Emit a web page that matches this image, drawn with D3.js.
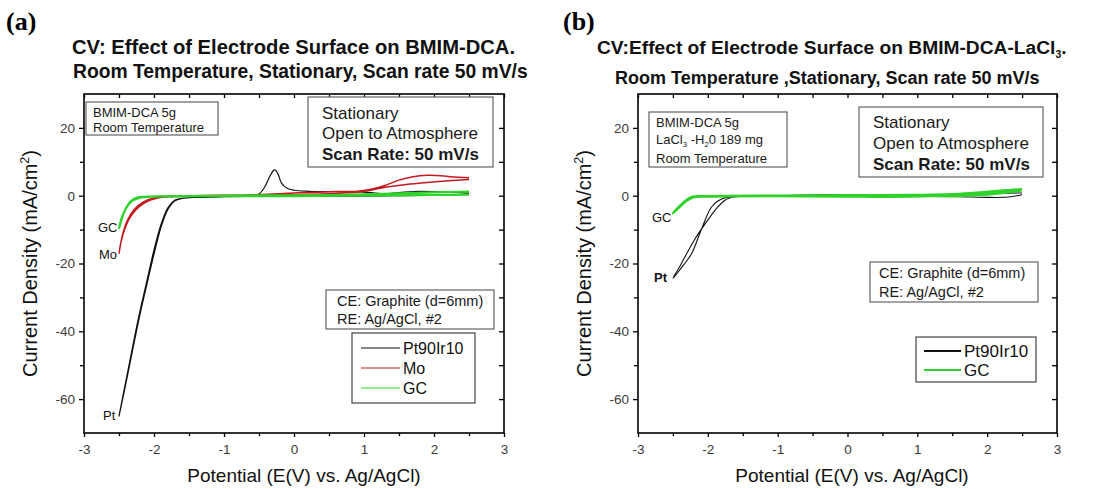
<!DOCTYPE html>
<html><head><meta charset="utf-8">
<script src="https://cdn.jsdelivr.net/npm/d3@7"></script>
<style>body{margin:0;background:#fff}</style>
</head><body>
<svg id="c" width="1114" height="489" xmlns="http://www.w3.org/2000/svg"></svg>
<script>
// ---------- data ----------
const xTicks = [-3, -2, -1, 0, 1, 2, 3];
const xMinor = [-2.5, -1.5, -0.5, 0.5, 1.5, 2.5];
const yTicks = [20, 0, -20, -40, -60];
const yMinor = [10, -10, -30, -50];
const xDomain = [-3, 3];
const yDomain = [-70, 30];

// Panel (a): BMIM-DCA, [E (V), current density (mA/cm2)]
const ptA = [[2.5,0.5],[2.2,0.2],[1.8,0.1],[1.4,0.0],[1.0,-0.1],[0.5,-0.1],[0.0,-0.1],[-0.5,-0.2],[-1.0,-0.3],[-1.4,-0.5],[-1.6,-0.8],[-1.7,-1.3],[-1.8,-3.5],[-1.9,-8.5],[-2.0,-16],[-2.1,-25],[-2.2,-34],[-2.3,-44],[-2.4,-54.5],[-2.5,-65],
  [-2.4,-55.2],[-2.3,-45.0],[-2.2,-35.0],[-2.1,-26.0],[-2.0,-17.2],[-1.9,-9.3],[-1.8,-4.0],[-1.7,-1.5],[-1.6,-0.8],[-1.4,-0.4],[-1.0,-0.1],[-0.6,0.2],[-0.5,0.5],[-0.42,2.5],[-0.35,5.5],[-0.3,7.3],[-0.27,7.6],[-0.23,6.5],[-0.18,3.8],[-0.1,2.2],[0.0,1.6],[0.2,1.3],[0.5,1.2],[0.9,1.2],[1.1,0.9],[1.3,0.6],[1.5,0.9],[1.8,1.3],[2.1,1.1],[2.5,0.8]];
const moA = [[2.5,4.8],[2.2,4.4],[1.9,3.9],[1.6,3.3],[1.3,2.5],[1.1,1.6],[0.9,1.0],[0.5,0.6],[0.0,0.3],[-0.5,0.1],[-1.0,0.0],[-1.5,-0.1],[-1.8,-0.3],[-1.95,-0.7],[-2.05,-1.3],[-2.15,-2.3],[-2.25,-4.0],[-2.35,-6.7],[-2.42,-10],[-2.47,-13.5],[-2.5,-17],
  [-2.45,-11.5],[-2.38,-7.3],[-2.28,-4.0],[-2.15,-1.8],[-2.0,-0.7],[-1.8,-0.2],[-1.5,0.0],[-1.0,0.1],[-0.5,0.3],[0.0,0.8],[0.5,1.2],[0.9,1.3],[1.1,1.9],[1.3,3.0],[1.5,4.6],[1.7,5.6],[1.9,6.0],[2.1,5.9],[2.3,5.5],[2.5,5.3]];
const gcA = [[2.5,0.3],[2.0,0.2],[1.5,0.1],[1.0,0.0],[0.0,-0.1],[-1.0,-0.1],[-1.8,-0.2],[-2.05,-0.3],[-2.2,-0.6],[-2.3,-1.4],[-2.38,-3.0],[-2.43,-5.0],[-2.47,-7.5],[-2.5,-9.6],
  [-2.46,-6.5],[-2.4,-3.8],[-2.33,-1.6],[-2.25,-0.6],[-2.1,-0.3],[-1.5,-0.1],[-0.5,0.1],[0.5,0.2],[1.0,0.4],[1.5,0.7],[2.0,1.0],[2.5,1.2]];

// Panel (b): BMIM-DCA-LaCl3
const ptB = [[2.5,0.3],[2.3,-0.4],[2.0,-0.5],[1.6,-0.3],[1.0,-0.2],[0.5,-0.2],[0.0,-0.1],[-0.5,0.0],[-1.0,-0.1],[-1.5,-0.2],[-1.73,-0.5],[-1.85,-1.5],[-1.95,-3.4],[-2.09,-9.8],[-2.23,-17],[-2.35,-20.5],[-2.5,-24.4],
  [-2.4,-20.8],[-2.3,-17],[-2.2,-13.3],[-2.09,-9.8],[-1.97,-6.3],[-1.86,-3.4],[-1.76,-1.4],[-1.68,-0.6],[-1.5,-0.2],[-1.0,0.0],[-0.4,0.3],[0.0,0.2],[0.5,0.1],[1.0,0.1],[1.5,0.3],[1.8,0.6],[2.1,0.7],[2.5,0.8]];
const gcB = [[2.5,1.6],[2.3,1.0],[2.0,0.4],[1.7,0.1],[1.2,-0.1],[0.5,-0.3],[0.0,-0.2],[-1.0,-0.1],[-2.0,-0.2],[-2.2,-0.4],[-2.3,-1.4],[-2.4,-3.2],[-2.5,-5.2],
  [-2.4,-3.0],[-2.3,-1.2],[-2.22,-0.3],[-2.0,-0.2],[-1.0,0.0],[0.0,0.1],[1.0,0.2],[1.5,0.4],[1.8,0.8],[2.1,1.3],[2.3,1.6],[2.5,1.9]];

const legendA = ["Pt90Ir10", "Mo", "GC"];
const legendB = ["Pt90Ir10", "GC"];
const colors = {Pt90Ir10: "#111111", Mo: "#c21a1f", GC: "#2fd22a"};

// ---------- drawing ----------
const svg = d3.select("#c");
svg.append("rect").attr("width",1114).attr("height",489).attr("fill","#fff");
const SANS = "'Liberation Sans', Arial, sans-serif";

function panel(cfg) {
  const x = d3.scaleLinear().domain(xDomain).range([cfg.l, cfg.r]);
  const y = d3.scaleLinear().domain(yDomain).range([cfg.b, cfg.t]);
  const g = svg.append("g");
  const fmt = d => String(d);

  // curves
  const line = d3.line().x(d => x(d[0])).y(d => y(d[1])).curve(d3.curveCatmullRom.alpha(0.5));
  cfg.series.forEach(s => {
    g.append("path").attr("d", line(s.data)).attr("fill","none")
      .attr("stroke", colors[s.name]).attr("stroke-width", s.w).attr("stroke-linejoin","round");
  });

  // axes
  const styleAxis = sel => {
    sel.select(".domain").remove();
    sel.selectAll("line").attr("stroke","#000").attr("stroke-width",1.3);
    sel.selectAll("text").attr("font-family",SANS).attr("font-size",13.5).attr("fill","#3a3a3a");
  };
  g.append("g").attr("transform",`translate(0,${cfg.b})`)
    .call(d3.axisBottom(x).tickValues(xTicks).tickFormat(fmt).tickSize(4).tickPadding(7)).call(styleAxis);
  g.append("g").attr("transform",`translate(0,${cfg.b})`)
    .call(d3.axisBottom(x).tickValues(xMinor).tickFormat("").tickSize(3)).call(styleAxis);
  g.append("g").attr("transform",`translate(0,${cfg.t})`)
    .call(d3.axisBottom(x).tickValues(xTicks.concat(xMinor)).tickFormat("").tickSize(4)).call(styleAxis);
  g.append("g").attr("transform",`translate(${cfg.l},0)`)
    .call(d3.axisLeft(y).tickValues(yTicks).tickFormat(fmt).tickSize(5).tickPadding(4)).call(styleAxis);
  g.append("g").attr("transform",`translate(${cfg.l},0)`)
    .call(d3.axisLeft(y).tickValues(yMinor).tickFormat("").tickSize(4)).call(styleAxis);
  g.append("g").attr("transform",`translate(${cfg.r},0)`)
    .call(d3.axisLeft(y).tickValues(yTicks.concat(yMinor)).tickFormat("").tickSize(5)).call(styleAxis);
  g.append("rect").attr("x",cfg.l).attr("y",cfg.t).attr("width",cfg.r-cfg.l).attr("height",cfg.b-cfg.t)
    .attr("fill","none").attr("stroke","#000").attr("stroke-width",1.6);

  // axis titles
  g.append("text").attr("x",cfg.xlx).attr("y",482).attr("text-anchor","middle")
    .attr("font-family",SANS).attr("font-size",19).attr("fill","#111").text("Potential (E(V) vs. Ag/AgCl)");
  const yl = g.append("text").attr("transform",`translate(${cfg.ylx},${(cfg.t+cfg.b)/2}) rotate(-90)`)
    .attr("text-anchor","middle").attr("font-family",SANS).attr("font-size",20).attr("fill","#111");
  yl.append("tspan").text("Current Density (mA/cm");
  yl.append("tspan").attr("font-size",12.5).attr("dy",-8).text("2");
  yl.append("tspan").attr("dy",8).text(")");

  // panel letter
  g.append("text").attr("x",cfg.letterX).attr("y",30).attr("font-family","'Liberation Serif', 'Times New Roman', serif")
    .attr("font-weight","bold").attr("font-size",26).attr("fill","#000").text(cfg.letter);

  // titles
  cfg.titles.forEach(tt => {
    const t = g.append("text").attr("x",tt.x).attr("y",tt.y).attr("font-family",SANS)
      .attr("font-weight","bold").attr("font-size",tt.fs).attr("fill","#111");
    tt.parts.forEach(p => {
      const s = t.append("tspan").text(p[0]);
      if (p[1] === "sub") s.attr("font-size", tt.fs*0.55).attr("dy",4);
      if (p[1] === "back") s.attr("dy",-4);
    });
  });

  // boxes
  cfg.boxes.forEach(bx => {
    g.append("rect").attr("x",bx.x).attr("y",bx.y).attr("width",bx.w).attr("height",bx.h)
      .attr("fill","#fff").attr("stroke","#555").attr("stroke-width",1.1);
    bx.lines.forEach((ln, i) => {
      const t = g.append("text").attr("x",bx.tx).attr("y",bx.ys[i]).attr("font-family",SANS)
        .attr("font-size",bx.fs).attr("fill","#1a1a1a").attr("font-weight", ln.bold ? "bold" : "normal");
      ln.parts.forEach(p => {
        const s = t.append("tspan").text(p[0]);
        if (p[1] === "sub") s.attr("font-size", bx.fs*0.6).attr("dy",3);
        if (p[1] === "back") s.attr("dy",-3);
      });
    });
  });

  // legend
  const lg = cfg.legend;
  g.append("rect").attr("x",lg.x).attr("y",lg.y).attr("width",lg.w).attr("height",lg.h)
    .attr("fill","#fff").attr("stroke","#444").attr("stroke-width",1.2);
  lg.names.forEach((n, i) => {
    const yy = lg.y0 + i*lg.dy;
    g.append("line").attr("x1",lg.lx1).attr("x2",lg.lx2).attr("y1",yy).attr("y2",yy)
      .attr("stroke",colors[n]).attr("stroke-width",lg.lw);
    g.append("text").attr("x",lg.lx2+3).attr("y",yy+6).attr("font-family",SANS).attr("font-size",lg.fs)
      .attr("fill","#111").text(n);
  });

  // curve labels
  cfg.labels.forEach(lb => {
    g.append("text").attr("x",lb.x).attr("y",lb.y).attr("font-family",SANS).attr("font-size",13)
      .attr("font-weight", lb.bold ? "bold" : "normal").attr("fill","#111").text(lb.t);
  });
}

panel({
  l: 84, r: 504, t: 94, b: 433, xlx: 304, ylx: 37, letter: "(a)", letterX: 6,
  series: [{name:"Pt90Ir10", data: ptA, w: 1.2}, {name:"Mo", data: moA, w: 1.5}, {name:"GC", data: gcA, w: 2.2}],
  titles: [
    {x: 72, y: 54, fs: 20.2, parts: [["CV: Effect of Electrode Surface on BMIM-DCA."]]},
    {x: 73, y: 78, fs: 19.3, parts: [["Room Temperature, Stationary, Scan rate 50 mV/s"]]}
  ],
  boxes: [
    {x: 86, y: 102, w: 132, h: 33, tx: 93, fs: 13, ys: [117, 132], lines: [{parts:[["BMIM-DCA 5g"]]},{parts:[["Room Temperature"]]}]},
    {x: 308, y: 97, w: 185, h: 70, tx: 322, fs: 17, ys: [119, 139, 160], lines: [{parts:[["Stationary"]]},{parts:[["Open to Atmosphere"]]},{bold:true, parts:[["Scan Rate: 50 mV/s"]]}]},
    {x: 326, y: 290, w: 168, h: 39, tx: 337, fs: 14.5, ys: [306, 324], lines: [{parts:[["CE: Graphite (d=6mm)"]]},{parts:[["RE: Ag/AgCl, #2"]]}]}
  ],
  legend: {x: 352, y: 333, w: 123, h: 70, names: legendA, y0: 348, dy: 20, lx1: 361, lx2: 400, lw: 1, fs: 16},
  labels: [{t:"GC", x: 98, y: 232}, {t:"Mo", x: 99, y: 259}, {t:"Pt", x: 103, y: 420}]
});

panel({
  l: 638, r: 1057, t: 94, b: 433, xlx: 852, ylx: 591, letter: "(b)", letterX: 563,
  series: [{name:"Pt90Ir10", data: ptB, w: 1.1}, {name:"GC", data: gcB, w: 2.6}],
  titles: [
    {x: 597, y: 54, fs: 19.2, parts: [["CV:Effect of Electrode Surface on BMIM-DCA-LaCl"],["3","sub"],[".","back"]]},
    {x: 615, y: 84, fs: 18, parts: [["Room Temperature ,Stationary, Scan rate 50 mV/s"]]}
  ],
  boxes: [
    {x: 649, y: 112, w: 138, h: 55, tx: 656, fs: 13, ys: [127, 144, 163], lines: [{parts:[["BMIM-DCA 5g"]]},{parts:[["LaCl"],["3","sub"],[" -H","back"],["2","sub"],["0 189 mg","back"]]},{parts:[["Room Temperature"]]}]},
    {x: 859, y: 107, w: 184, h: 70, tx: 873, fs: 17, ys: [128, 149, 170], lines: [{parts:[["Stationary"]]},{parts:[["Open to Atmosphere"]]},{bold:true, parts:[["Scan Rate: 50 mV/s"]]}]},
    {x: 870, y: 262, w: 168, h: 40, tx: 879, fs: 14.5, ys: [278, 297], lines: [{parts:[["CE: Graphite (d=6mm)"]]},{parts:[["RE: Ag/AgCl, #2"]]}]}
  ],
  legend: {x: 916, y: 337, w: 120, h: 45, names: legendB, y0: 351, dy: 19, lx1: 924, lx2: 961, lw: 2, fs: 17},
  labels: [{t:"GC", x: 652, y: 222}, {t:"Pt", x: 654, y: 282, bold: true}]
});
</script>
</body></html>
